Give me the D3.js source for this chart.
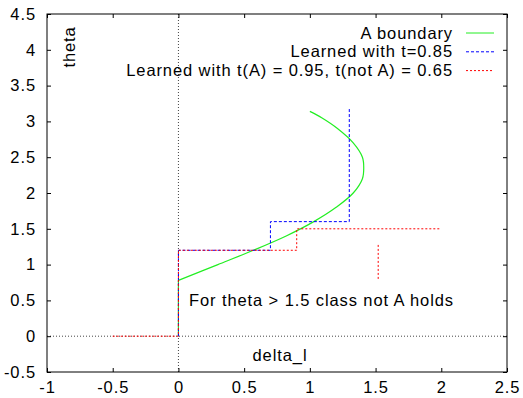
<!DOCTYPE html>
<html>
<head>
<meta charset="utf-8">
<script src="https://cdn.jsdelivr.net/npm/d3@7"></script>
<style>
    body { margin: 0; background: #fff; }
    text { font-family: "Liberation Sans", Arial, sans-serif; font-size: 16.5px; fill: #000; letter-spacing: 0.9px; }
</style>
</head>
<body>
<script>
// tick values
var xTicks = [-1, -0.5, 0, 0.5, 1, 1.5, 2, 2.5];
var yTicks = [-0.5, 0, 0.5, 1, 1.5, 2, 2.5, 3, 3.5, 4, 4.5];

// A boundary, [delta_l, theta]
var boundaryStem = [[0, 0], [0, 0.78]];
var boundary = [
    [0, 0.78], [0.30, 1.0], [0.57, 1.2], [0.82, 1.4], [1.03, 1.6],
    [1.20, 1.8], [1.33, 2.0], [1.40, 2.2], [1.41, 2.35], [1.40, 2.5],
    [1.33, 2.7], [1.21, 2.9], [1.09, 3.05], [1.0, 3.14]
];

// Learned with t=0.85
var learned85 = [
    [0, 0], [0, 1.2], [0.7, 1.2], [0.7, 1.6], [1.3, 1.6], [1.3, 3.2]
];

// Learned with t(A)=0.95, t(not A)=0.65 (two pieces)
var learnedAsym = [
    [[-0.5, 0], [0, 0], [0, 1.2], [0.9, 1.2], [0.9, 1.5], [2.0, 1.5]],
    [[1.52, 0.8], [1.52, 1.3]]
];

var legendNames = ['A boundary', 'Learned with t=0.85', 'Learned with t(A) = 0.95, t(not A) = 0.65'];

(function() {
    var w = 523, h = 398;
    var mLeft = 47, mRight = 507, mTop = 14, mBottom = 372;

    var svg = d3.select('body')
        .append('svg')
        .attr('width', w)
        .attr('height', h);

    var x = d3.scaleLinear()
        .domain([-1, 2.5])
        .range([mLeft, mRight]);
    var y = d3.scaleLinear()
        .domain([-0.5, 4.5])
        .range([mBottom, mTop]);

    // zero axes (dotted)
    svg.append('line')
        .attr('x1', mLeft).attr('x2', mRight)
        .attr('y1', y(0)).attr('y2', y(0))
        .style('stroke', '#444')
        .style('stroke-dasharray', '1,2');
    svg.append('line')
        .attr('x1', x(0)).attr('x2', x(0))
        .attr('y1', mTop).attr('y2', mBottom)
        .style('stroke', '#444')
        .style('stroke-dasharray', '1,2');

    // axes: ticks inside, mirrored
    var tk = 4;
    var fmt = function(d) { return String(d); };
    var bottomAxis = d3.axisBottom(x).tickValues(xTicks).tickSizeInner(-tk).tickSizeOuter(0)
        .tickPadding(9).tickFormat(fmt);
    var topAxis = d3.axisTop(x).tickValues(xTicks).tickSizeInner(-tk).tickSizeOuter(0)
        .tickFormat('');
    var leftAxis = d3.axisLeft(y).tickValues(yTicks).tickSizeInner(-tk).tickSizeOuter(0)
        .tickPadding(11).tickFormat(fmt);
    var rightAxis = d3.axisRight(y).tickValues(yTicks).tickSizeInner(-tk).tickSizeOuter(0)
        .tickFormat('');

    function styleAxis(g) {
        g.select('.domain').remove();
        g.selectAll('line').style('stroke', '#000');
        g.selectAll('text')
            .attr('fill', '#000')
            .style('font-family', '"Liberation Sans", Arial, sans-serif')
            .style('font-size', '16.5px');
    }

    svg.append('g').attr('transform', 'translate(0,' + mBottom + ')').call(bottomAxis).call(styleAxis);
    svg.append('g').attr('transform', 'translate(0,' + mTop + ')').call(topAxis).call(styleAxis);
    svg.append('g').attr('transform', 'translate(' + mLeft + ',0)').call(leftAxis).call(styleAxis);
    svg.append('g').attr('transform', 'translate(' + mRight + ',0)').call(rightAxis).call(styleAxis);

    // frame
    svg.append('rect')
        .attr('x', mLeft).attr('y', mTop)
        .attr('width', mRight - mLeft).attr('height', mBottom - mTop)
        .style('fill', 'none')
        .style('stroke', '#000');

    var line = d3.line()
        .x(function(d) { return x(d[0]); })
        .y(function(d) { return y(d[1]); });
    var smooth = d3.line()
        .curve(d3.curveCatmullRom)
        .x(function(d) { return x(d[0]); })
        .y(function(d) { return y(d[1]); });

    var styles = [
        { color: '#22ee22', dash: null },
        { color: '#0000ff', dash: '3,2' },
        { color: '#ff0000', dash: '2,2' }
    ];

    svg.append('path')
        .datum(boundaryStem)
        .attr('d', line)
        .style('fill', 'none')
        .style('stroke', styles[0].color)
        .style('stroke-width', 1.2);
    svg.append('path')
        .datum(boundary)
        .attr('d', smooth)
        .style('fill', 'none')
        .style('stroke', styles[0].color)
        .style('stroke-width', 1.2);

    svg.append('path')
        .datum(learned85)
        .attr('d', line)
        .style('fill', 'none')
        .style('stroke', styles[1].color)
        .style('stroke-dasharray', styles[1].dash);

    svg.selectAll('.asym')
        .data(learnedAsym)
        .enter()
        .append('path')
        .attr('class', 'asym')
        .attr('d', line)
        .style('fill', 'none')
        .style('stroke', styles[2].color)
        .style('stroke-dasharray', styles[2].dash);

    // legend
    var legend = svg.selectAll('.legend')
        .data(legendNames)
        .enter()
        .append('g')
        .attr('class', 'legend')
        .attr('transform', function(d, i) {
            return 'translate(0,' + (33 + i * 18.8) + ')';
        });
    legend.append('text')
        .attr('x', 453)
        .attr('y', 5.5)
        .attr('text-anchor', 'end')
        .text(function(d) { return d; });
    legend.append('line')
        .attr('x1', 466).attr('x2', 494)
        .attr('y1', 0).attr('y2', 0)
        .style('stroke', function(d, i) { return styles[i].color; })
        .style('stroke-dasharray', function(d, i) { return styles[i].dash; });

    // axis labels
    svg.append('text')
        .attr('transform', 'translate(75,47) rotate(-90)')
        .attr('text-anchor', 'middle')
        .text('theta');

    svg.append('text')
        .attr('x', 280)
        .attr('y', 361)
        .attr('text-anchor', 'middle')
        .text('delta_l');

    svg.append('text')
        .attr('x', 189)
        .attr('y', 306)
        .text('For theta > 1.5 class not A holds');
})();
</script>
</body>
</html>
